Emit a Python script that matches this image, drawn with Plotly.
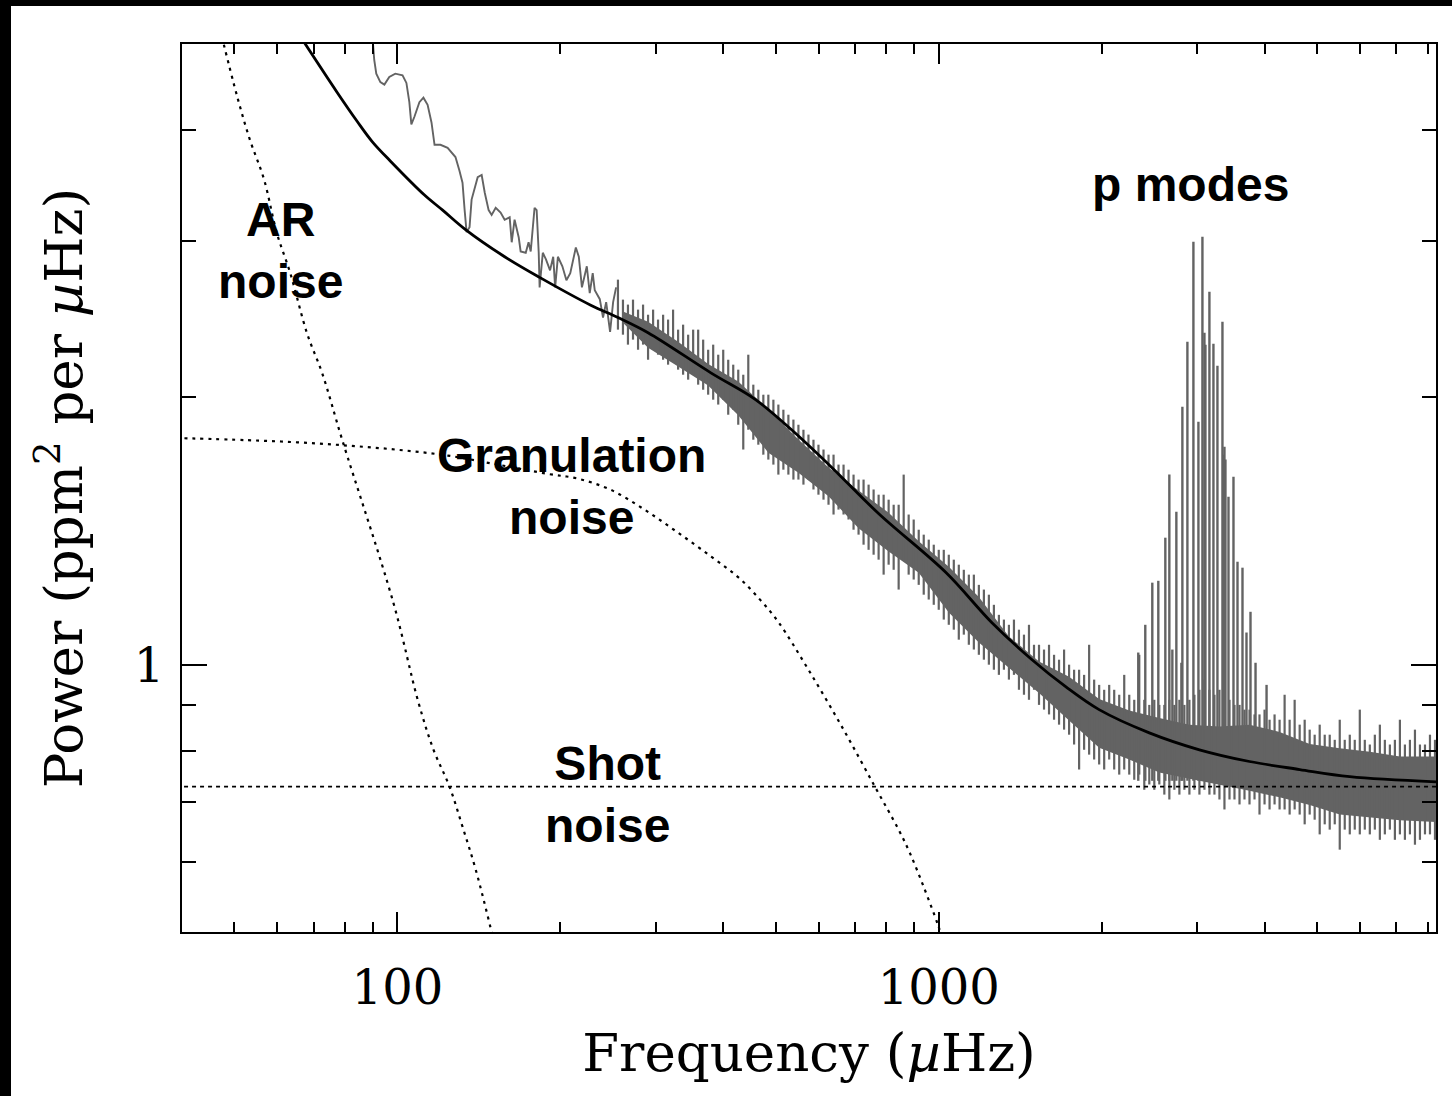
import math
import plotly.graph_objects as go

# ---------------- data ----------------
# frequencies in microHz, power in ppm^2 per microHz

# smoothed low-frequency part of the observed spectrum (thin grey line)
lowf_freq = [89.5, 90.6, 91.4, 93.0, 94.6, 96.6, 99.1, 102.2, 103.9, 105.2, 106.1, 107.5, 109.8, 111.7,
             113.7, 115.6, 117.1, 120.1, 123.8, 128.0, 130.2, 131.9, 133.1, 134.2, 135.9, 137.1, 140.7,
             143.1, 145.0, 147.4, 149.3, 151.9, 155.1, 157.8, 161.2, 162.6, 164.6, 167.5, 168.9, 172.6,
             174.7, 176.3, 179.2, 180.8, 182.4, 183.1, 185.6, 188.1, 191.4, 194.0, 195.6, 197.9, 201.7,
             205.2, 208.6, 213.6, 216.3, 219.2, 223.8, 226.6, 229.5, 231.5, 236.5, 239.8, 243.0, 247.1,
             250.3, 253.5]
lowf_pow = [5.3, 4.80, 4.63, 4.53, 4.50, 4.59, 4.63, 4.61, 4.52, 4.30, 4.06, 4.14, 4.30, 4.35,
            4.27, 4.08, 3.85, 3.85, 3.82, 3.73, 3.60, 3.49, 3.25, 3.07, 3.11, 3.34, 3.54,
            3.56, 3.40, 3.25, 3.21, 3.27, 3.23, 3.17, 3.19, 2.99, 3.17, 3.03, 2.92, 2.91,
            2.99, 2.92, 3.27, 3.25, 2.91, 2.66, 2.91, 2.86, 2.78, 2.88, 2.66, 2.88, 2.81,
            2.71, 2.76, 2.95, 2.88, 2.66, 2.81, 2.62, 2.76, 2.64, 2.58, 2.46, 2.56, 2.37,
            2.56, 2.66]

# dense high-frequency spectrum: per frequency bin, lowest and highest power
seg_freq = [255.5, 261.0, 266.6, 272.4, 278.3, 284.3, 290.4, 296.7, 303.0, 309.6,
            316.2, 323.0, 330.0, 337.1, 344.4, 351.8, 359.4, 367.1, 375.0, 383.1,
            391.4, 399.8, 408.4, 417.2, 426.2, 435.4, 444.8, 454.4, 464.2, 474.2,
            484.4, 494.9, 505.5, 516.4, 527.5, 538.9, 550.5, 562.4, 574.5, 586.9,
            599.5, 612.5, 625.7, 639.2, 652.9, 667.0, 681.3, 696.0, 711.0, 726.3,
            742.0, 758.0, 774.3, 791.0, 808.0, 825.5, 843.2, 861.4, 879.9, 898.9,
            918.3, 938.1, 958.3, 979.0, 1000, 1021.6, 1043.6, 1066.1, 1089.0, 1112.5,
            1136.5, 1161.0, 1186.0, 1211.6, 1237.6, 1264.3, 1291.5, 1319.4, 1347.8, 1376.9,
            1406.5, 1436.9, 1467.8, 1499.5, 1531.8, 1564.8, 1598.5, 1633.0, 1668.1, 1704.1,
            1740.8, 1778.3, 1816.7, 1855.8, 1895.8, 1936.7, 1978.4, 2021.1, 2064.6, 2109.1,
            2154.6, 2201.0, 2248.5, 2296.9, 2346.4, 2397.0, 2448.7, 2501.4, 2555.3, 2610.4,
            2666.7, 2724.1, 2782.9, 2842.8, 2904.1, 2966.7, 3030.6, 3095.9, 3162.3, 3230.5,
            3300, 3371, 3444, 3518, 3594, 3671, 3750, 3831, 3913, 3998,
            4084, 4172, 4262, 4354, 4448, 4544, 4642, 4742, 4844, 4948,
            5055, 5164, 5275, 5389, 5505, 5623, 5745, 5868, 5995, 6124,
            6256, 6391, 6529, 6669, 6813, 6960, 7110, 7263, 7420, 7580,
            7743, 7910, 8080, 8254]
seg_hi = [2.714, 2.577, 2.544, 2.577, 2.511, 2.544, 2.478, 2.511, 2.447, 2.478,
          2.447, 2.511, 2.384, 2.415, 2.353, 2.384, 2.384, 2.323, 2.263, 2.293,
          2.234, 2.263, 2.205, 2.177, 2.149, 2.121, 2.234, 2.067, 2.040, 2.014,
          2.014, 1.988, 1.963, 1.937, 1.912, 1.888, 1.863, 1.839, 1.816, 1.792,
          1.769, 1.747, 1.724, 1.724, 1.680, 1.680, 1.658, 1.637, 1.616, 1.616,
          1.595, 1.575, 1.554, 1.554, 1.534, 1.514, 1.514, 1.637, 1.476, 1.457,
          1.419, 1.401, 1.383, 1.365, 1.347, 1.347, 1.330, 1.313, 1.296, 1.279,
          1.263, 1.263, 1.230, 1.215, 1.199, 1.168, 1.138, 1.124, 1.109, 1.124,
          1.095, 1.081, 1.109, 1.053, 1.053, 1.040, 1.053, 1.026, 1.013, 1.040,
          1.000, 0.987, 0.987, 0.974, 1.053, 0.962, 0.949, 0.937, 0.949, 0.937,
          0.925, 0.974, 0.925, 0.913, 1.026, 0.913, 0.901, 0.913, 0.901, 0.901,
          0.913, 0.901, 0.913, 0.901, 0.913, 0.925, 0.937, 0.962, 0.937, 0.925,
          0.937, 0.913, 0.913, 0.901, 0.901, 0.890, 0.890, 0.879, 0.879, 0.890,
          0.867, 0.879, 0.867, 0.925, 0.867, 0.913, 0.856, 0.867, 0.845, 0.834,
          0.856, 0.834, 0.834, 0.823, 0.867, 0.823, 0.834, 0.823, 0.890, 0.823,
          0.813, 0.834, 0.856, 0.823, 0.813, 0.823, 0.867, 0.813, 0.823, 0.845,
          0.813, 0.813, 0.834, 0.823]
seg_lo = [2.384, 2.353, 2.293, 2.323, 2.263, 2.293, 2.205, 2.263, 2.234, 2.205,
          2.177, 2.205, 2.149, 2.121, 2.094, 2.121, 2.067, 2.040, 2.014, 1.988,
          1.963, 1.988, 1.912, 1.937, 1.863, 1.747, 1.839, 1.792, 1.769, 1.724,
          1.702, 1.680, 1.637, 1.658, 1.637, 1.616, 1.616, 1.595, 1.616, 1.575,
          1.554, 1.534, 1.514, 1.476, 1.495, 1.476, 1.457, 1.419, 1.401, 1.365,
          1.347, 1.330, 1.313, 1.263, 1.296, 1.279, 1.215, 1.313, 1.263, 1.247,
          1.230, 1.199, 1.184, 1.168, 1.153, 1.124, 1.109, 1.095, 1.067, 1.081,
          1.053, 1.040, 1.026, 1.013, 1.000, 0.987, 0.974, 0.987, 0.962, 0.974,
          0.937, 0.925, 0.913, 0.937, 0.901, 0.890, 0.879, 0.867, 0.856, 0.845,
          0.834, 0.813, 0.762, 0.802, 0.792, 0.782, 0.772, 0.762, 0.782, 0.762,
          0.752, 0.762, 0.752, 0.742, 0.752, 0.723, 0.733, 0.723, 0.733, 0.714,
          0.705, 0.723, 0.714, 0.723, 0.714, 0.723, 0.714, 0.723, 0.714, 0.714,
          0.705, 0.687, 0.705, 0.705, 0.696, 0.705, 0.696, 0.705, 0.678, 0.696,
          0.687, 0.696, 0.687, 0.687, 0.678, 0.687, 0.678, 0.661, 0.678, 0.669,
          0.644, 0.661, 0.652, 0.661, 0.619, 0.652, 0.644, 0.652, 0.644, 0.652,
          0.644, 0.652, 0.635, 0.644, 0.652, 0.635, 0.644, 0.635, 0.644, 0.627,
          0.635, 0.644, 0.644, 0.635]

# solid core of the noisy band
band_freq = [261.0, 290.4, 330.0, 375.0, 426.2, 484.4, 550.5, 625.7, 711.0, 808.0, 918.3, 1043.6,
             1186.0, 1347.8, 1531.8, 1740.8, 1978.4, 2248.5, 2555.3, 2904.1, 3300, 3750, 4262,
             4844, 5505, 6256, 7110, 8290]
band_upper = [2.498, 2.433, 2.311, 2.181, 2.084, 1.939, 1.793, 1.668, 1.571, 1.483, 1.377, 1.289,
              1.192, 1.076, 1.008, 0.969, 0.915, 0.888, 0.871, 0.856, 0.852, 0.856, 0.840,
              0.814, 0.805, 0.798, 0.788, 0.788]
band_lower = [2.427, 2.275, 2.167, 2.063, 1.909, 1.733, 1.645, 1.548, 1.424, 1.341, 1.269, 1.145,
              1.059, 0.992, 0.929, 0.865, 0.806, 0.782, 0.756, 0.744, 0.733, 0.721, 0.709,
              0.695, 0.678, 0.673, 0.668, 0.665]

# p-mode peaks
pmode_freq = [2336.4, 2407.2, 2480.2, 2544.4, 2621.5, 2666.7, 2701.0, 2747.4, 2806.7, 2818.7,
              2879.5, 2954.1, 3017.7, 3069.6, 3095.9, 3109.1, 3162.3, 3216.8, 3272.0, 3342.4,
              3356.7, 3371, 3385.4, 3429.4, 3503.0, 3563.5, 3639.8, 3702.4, 3766.0, 3847.4, 4032.2]
pmode_peak = [1.032, 1.109, 1.237, 1.243, 1.390, 1.637, 1.040, 1.487, 1.005, 1.952,
              2.311, 2.995, 1.877, 3.034, 2.365, 2.293, 2.630, 2.298, 2.171, 2.434,
              1.724, 1.760, 1.702, 1.546, 1.628, 1.306, 1.286, 1.087, 1.147, 1.005, 0.949]
pmode_base = 0.74

# fitted model (solid black)
fit_freq = [67.0, 77.4, 84.3, 89.9, 97.1, 112.2, 121.2, 133.6, 157.8, 183.1, 227.6, 255.5, 290.4, 380,
            458, 534, 633, 774, 1031, 1254, 1487, 1718, 1978, 2449, 3031, 3750, 4642, 5745, 8290]
fit_pow = [5.04, 4.41, 4.09, 3.88, 3.69, 3.38, 3.25, 3.09, 2.88, 2.73, 2.54, 2.46, 2.365, 2.13,
           1.99, 1.84, 1.67, 1.48, 1.27, 1.115, 1.013, 0.944, 0.890, 0.838, 0.802, 0.778,
           0.762, 0.748, 0.738]

# AR noise component (dotted)
ar_freq = [47.0, 50.6, 53.4, 56.7, 59.9, 63.4, 68.1, 72.6, 79.1, 98.3, 109.4, 116.6, 124.8, 131.9,
           139.5, 149.3, 150.5]
ar_pow = [5.2, 4.36, 3.90, 3.52, 3.06, 2.76, 2.36, 2.13, 1.79, 1.174, 0.906, 0.802, 0.729, 0.657,
          0.588, 0.50, 0.49]

# granulation noise component (dotted)
gran_freq = [39, 52.7, 65.3, 80.8, 100, 123.8, 153.2, 189.6, 215.4, 247.6, 286, 330, 380, 426, 468,
             505, 574.5, 667, 762, 843, 884, 938, 996, 1012]
gran_pow = [1.80, 1.79, 1.78, 1.765, 1.746, 1.72, 1.68, 1.64, 1.62, 1.574, 1.495, 1.408, 1.323,
            1.255, 1.183, 1.118, 0.987, 0.845, 0.729, 0.652, 0.614, 0.562, 0.51, 0.495]

# shot noise level (dashed)
shot_freq = [39, 8400]
shot_pow = [0.729, 0.729]

# axis ticks
x_major = [100, 1000]
x_minor = [50, 60, 70, 80, 90, 200, 300, 400, 500, 600, 700, 800, 900,
           2000, 3000, 4000, 5000, 6000, 7000, 8000]
y_major = [1]
y_minor = [0.6, 0.7, 0.8, 0.9, 2, 3, 4]

# label text and the (frequency, power) it is centred on
labels = [
    ("AR<br>noise", 60.7, 2.93),
    ("Granulation<br>noise", 210, 1.587),
    ("Shot<br>noise", 244, 0.714),
    ("p modes", 2916, 3.47),
]

assert len(seg_freq) == len(seg_hi) == len(seg_lo)
assert len(lowf_freq) == len(lowf_pow)
assert len(pmode_freq) == len(pmode_peak)
assert len(band_freq) == len(band_upper) == len(band_lower)
assert len(fit_freq) == len(fit_pow)
assert len(gran_freq) == len(gran_pow)

# ---------------- figure ----------------
GREY = "#636363"
fig = go.Figure()

# component models
fig.add_trace(go.Scatter(x=ar_freq, y=ar_pow, mode="lines",
                         line=dict(color="black", width=2.2, dash="3px,5px", shape="spline")))
fig.add_trace(go.Scatter(x=gran_freq, y=gran_pow, mode="lines",
                         line=dict(color="black", width=2.2, dash="3px,5px", shape="spline")))

# observed spectrum
fig.add_trace(go.Scatter(x=band_freq, y=band_upper, mode="lines", line=dict(width=0, color=GREY)))
fig.add_trace(go.Scatter(x=band_freq, y=band_lower, mode="lines", line=dict(width=0, color=GREY),
                         fill="tonexty", fillcolor=GREY))
sx, sy = [], []
for f, lo, hi in zip(seg_freq, seg_lo, seg_hi):
    sx += [f, f, None]
    sy += [lo, hi, None]
fig.add_trace(go.Scatter(x=sx, y=sy, mode="lines", line=dict(color=GREY, width=2.2)))
px_, py_ = [], []
for f, pk in zip(pmode_freq, pmode_peak):
    px_ += [f, f, None]
    py_ += [pmode_base, pk, None]
fig.add_trace(go.Scatter(x=px_, y=py_, mode="lines", line=dict(color=GREY, width=2.4)))
fig.add_trace(go.Scatter(x=lowf_freq, y=lowf_pow, mode="lines", line=dict(color=GREY, width=1.9)))

# shot noise + fit on top
fig.add_trace(go.Scatter(x=shot_freq, y=shot_pow, mode="lines",
                         line=dict(color="black", width=1.8, dash="4px,4px")))
fig.add_trace(go.Scatter(x=fit_freq, y=fit_pow, mode="lines",
                         line=dict(color="black", width=2.8, shape="spline", smoothing=1.0)))

for txt, fx, fy in labels:
    fig.add_annotation(x=math.log10(fx), y=math.log10(fy), xref="x", yref="y", text="<b>" + txt + "</b>",
                       showarrow=False, font=dict(family="Liberation Sans, Arial", size=48, color="black"))

tickfont = dict(family="DejaVu Serif, serif", size=48, color="black")
titlefont = dict(family="DejaVu Serif, serif", size=53, color="black")
axis_common = dict(type="log", showgrid=False, zeroline=False, showline=True, linecolor="black",
                   linewidth=2, mirror="allticks", ticks="inside", tickwidth=2, tickcolor="black",
                   tickfont=tickfont)

fig.update_xaxes(**axis_common, range=[math.log10(40), math.log10(8290)],
                 tickmode="array", tickvals=x_major, ticktext=[str(v) for v in x_major], ticklen=20,
                 minor=dict(tickmode="array", tickvals=x_minor, ticks="inside", ticklen=10,
                            tickwidth=2, tickcolor="black", showgrid=False),
                 ticklabelstandoff=12,
                 title=dict(text="Frequency (<i>µ</i>Hz)", font=titlefont, standoff=20))
fig.update_yaxes(**axis_common, range=[math.log10(0.5), math.log10(5)],
                 tickmode="array", tickvals=y_major, ticktext=["1"], ticklen=25,
                 minor=dict(tickmode="array", tickvals=y_minor, ticks="inside", ticklen=14,
                            tickwidth=2, tickcolor="black", showgrid=False),
                 ticklabelstandoff=6,
                 title=dict(text="Power (ppm<sup>2</sup> per <i>µ</i>Hz)", font=titlefont, standoff=34))

# white page area inside a thin black frame (top / left)
fig.add_shape(type="rect", xref="paper", yref="paper", layer="below",
              x0=(11 - 182) / 1254, x1=1.05, y0=-0.25, y1=(932 - 6) / 888,
              fillcolor="white", line=dict(width=0))

fig.update_layout(width=1452, height=1096, autosize=False, showlegend=False,
                  paper_bgcolor="black", plot_bgcolor="white",
                  margin=dict(l=182, r=16, t=44, b=164))

fig.write_html("out.html", config={"displayModeBar": False},
               post_script="document.body.style.margin='0';document.body.style.overflow='hidden';")
